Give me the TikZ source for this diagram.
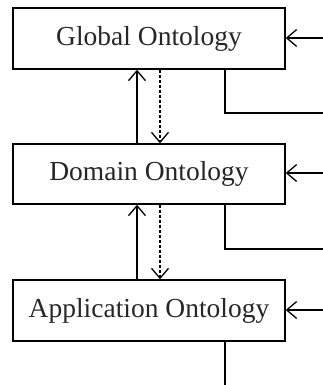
\documentclass[tikz,border=0pt]{standalone}
\usepackage{fontspec}
\setmainfont{Liberation Serif}
\usetikzlibrary{arrows.meta}
\begin{document}
\begin{tikzpicture}[x=1pt,y=-1pt,
  box/.style={draw,line width=1.4pt,minimum width=272pt,inner sep=0pt,font=\fontsize{27.5}{31}\selectfont,text=black!85},
  conn/.style={line width=1.3pt},
  tip/.style={-{Straight Barb[length=10pt,width=17pt,line width=1.3pt]}}]
\useasboundingbox (0,0) rectangle (323,385);
\node[box,minimum height=61pt] (g) at (149,38.5) {Global Ontology};
\node[box,minimum height=60pt] (d) at (149,174) {Domain Ontology};
\node[box,minimum height=61pt] (a) at (149,310.5) {Application Ontology};
% vertical links
\draw[conn,tip] (d.north -| 137,0) -- (g.south -| 137,0);
\draw[conn,tip,dashed,dash pattern=on 3pt off 2pt] (g.south -| 160,0) -- (d.north -| 160,0);
\draw[conn,tip] (a.north -| 137,0) -- (d.south -| 137,0);
\draw[conn,tip,dashed,dash pattern=on 3pt off 2pt] (d.south -| 160,0) -- (a.north -| 160,0);
% incoming from right
\coordinate (gi) at (323,38);
\coordinate (di) at (323,173);
\coordinate (ai) at (323,310);
\draw[conn,tip] (gi) -- (gi -| g.east);
\draw[conn,tip] (di) -- (di -| d.east);
\draw[conn,tip] (ai) -- (ai -| a.east);
% outgoing to right
\coordinate (go) at (323,113);
\coordinate (do) at (323,249);
\coordinate (ao) at (225,385);
\draw[conn] (g.south -| 225,0) |- (go);
\draw[conn] (d.south -| 225,0) |- (do);
\draw[conn] (a.south -| 225,0) -- (ao);
\end{tikzpicture}
\end{document}
